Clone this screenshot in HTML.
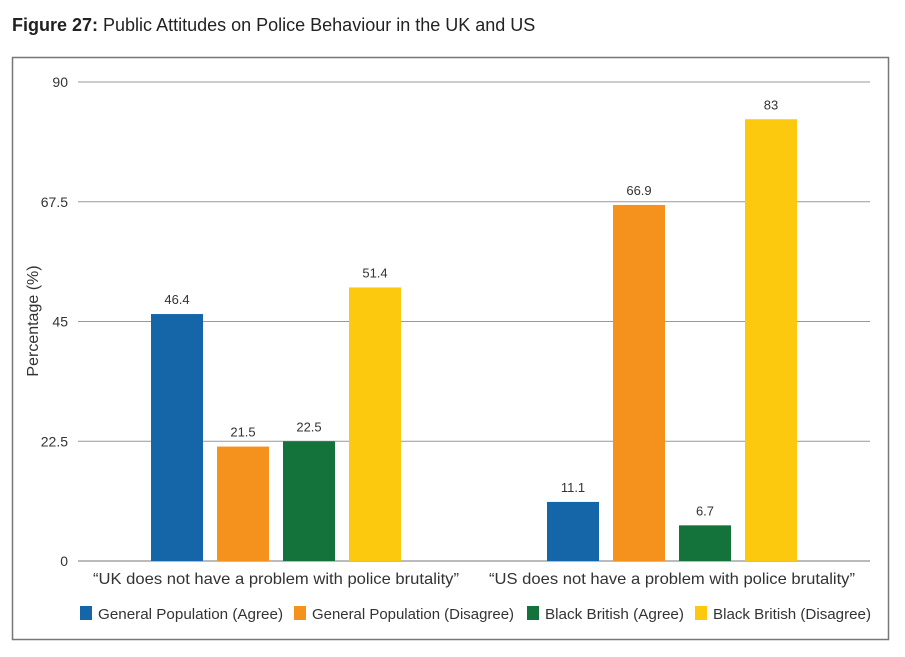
<!DOCTYPE html>
<html><head><meta charset="utf-8"><style>
body{margin:0;background:#fff;font-family:"Liberation Sans",sans-serif;}
svg text{font-family:"Liberation Sans",sans-serif;}
</style></head><body>
<svg width="905" height="652" xmlns="http://www.w3.org/2000/svg">
<text x="12" y="31" font-size="18" fill="#222"><tspan font-weight="bold">Figure 27:</tspan> Public Attitudes on Police Behaviour in the UK and US</text>
<rect x="12.5" y="57.5" width="876" height="582" fill="none" stroke="#777" stroke-width="1.5"/>
<g id="grid"></g><g id="bars"></g><g id="labels"></g>
<text transform="translate(38,321) rotate(-90)" text-anchor="middle" font-size="16" fill="#333">Percentage (%)</text>
<g id="legend"></g>
</svg>
<script>
const categories=["“UK does not have a problem with police brutality”","“US does not have a problem with police brutality”"];
const seriesNames=["General Population (Agree)","General Population (Disagree)","Black British (Agree)","Black British (Disagree)"];
const gpAgree=[46.4,11.1];
const gpDisagree=[21.5,66.9];
const bbAgree=[22.5,6.7];
const bbDisagree=[51.4,83];
const yTicks=[0,22.5,45,67.5,90];
const yTickLabels=["0","22.5","45","67.5","90"];
const colors=["#1466a8","#f5921e","#13733b","#fdc90f"];
const series=[gpAgree,gpDisagree,bbAgree,bbDisagree];
const NS="http://www.w3.org/2000/svg";
const x0=78,x1=870,yTop=82,yBot=561;
const y=v=>yBot-(v/90)*(yBot-yTop);
const band=(x1-x0)/categories.length;
function mk(t,a,p){const e=document.createElementNS(NS,t);for(const k in a)e.setAttribute(k,a[k]);document.getElementById(p).appendChild(e);return e;}
yTicks.forEach((t,i)=>{
 const l=mk('line',{x1:x0,x2:x1,y1:y(t),y2:y(t),stroke:t===0?'#bbb':'#999','stroke-width':t===0?2:1},'grid');
 
 
 const tx=mk('text',{x:68,y:y(t)+5,'text-anchor':'end','font-size':14,fill:'#333'},'grid');
 tx.textContent=yTickLabels[i];
 
 
});
const bw=52,step=66;
categories.forEach((c,ci)=>{
 const cx=x0+band*(ci+0.5);
 series.forEach((s,si)=>{
  const bx=cx-2*step+si*step+(step-bw)/2;
  const r=mk('rect',{x:bx,y:y(s[ci]),width:bw,height:yBot-y(s[ci]),fill:colors[si]},'bars');
  
  
  const t=mk('text',{x:bx+bw/2,y:y(s[ci])-10,'text-anchor':'middle','font-size':13,fill:'#333'},'labels');
  t.textContent=String(s[ci]);
  
  
 });
 const ct=mk('text',{x:cx,y:584,'text-anchor':'middle','font-size':16,fill:'#333',textLength:366,lengthAdjust:'spacingAndGlyphs'},'labels');
 ct.textContent=c;
 
 
});
const lx=[80,294,527,695];
const tl=[185,202,139,158];
seriesNames.forEach((n,i)=>{
 const r=mk('rect',{x:lx[i],y:606,width:12,height:14,fill:colors[i]},'legend');
 
 
 const t=mk('text',{x:lx[i]+18,y:619,'font-size':15,fill:'#333',textLength:tl[i],lengthAdjust:'spacingAndGlyphs'},'legend');
 t.textContent=n;
 
 
});
</script>
</body></html>
